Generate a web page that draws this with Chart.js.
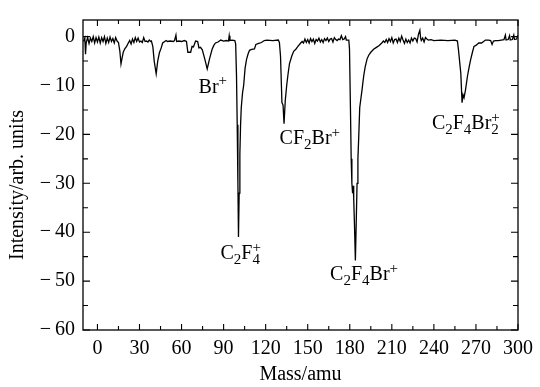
<!DOCTYPE html>
<html><head><meta charset="utf-8">
<script src="https://cdn.jsdelivr.net/npm/chart.js@4/dist/chart.umd.min.js"></script>
<style>html,body{margin:0;padding:0;background:#fff;}canvas{display:block;}</style>
</head><body>
<canvas id="c" width="540" height="387"></canvas>
<script>
// ---- data ----
const masses = [
 -10,-9,-8.5,-8,-7,-6,-5,-4,-3,-2,-1,0,1,2,3,4,5,6,7,8,9,10,11,12,13,14,15,16,16.8,17.5,18.4,19.5,20.8,22,23,24,25,26,27,28,29,30,31,32,33,34,35,36,37,38,38.5,39.5,40.5,41.9,43,44.2,45.5,46.5,48,49,50,52,54,55,56,56.5,58,60,62,63.5,64.5,66.5,67.5,68.5,70,71.5,72.4,73.5,74.8,76.5,78.3,80,81.8,83,84.2,86,88,90,92,93.5,94,94.5,96,98,
 98.6,99.2,99.7,100.2,100.6,101.1,101.6,102.1,102.6,103.5,104.3,105.3,106.4,107.5,108.5,110,112,113,115,117,119,121,125,129,
 129.8,130.6,131.6,132.4,133.1,134,135,135.9,137,138.7,140,141.5,143,145,146,147,148,149,150,151,152,153,154,155,156,157,158,159,160,161,162,163,164,165,166,167,168,169,170,171,172,173,174,175,176,177,177.5,179.3,
 179.8,180.5,181,181.5,182,182.4,182.8,183.4,184,184.6,185.2,185.8,186.4,187.1,188,188.7,189.3,190,191,192.3,193.5,195,197,199,201,202.8,
 204,205,206,207,208,209,210,211,212,213,214,215,216,217,218,219,220,221,222,223,224,225,226,227,228,229,230,230.5,231,232,233,234,235,236,238,240,245,250,255,256.8,
 257.5,259.2,260.1,260.8,261.5,262.5,264,265.3,266.3,267.5,268.6,270,272,274,276.8,279,280.5,281.5,282.5,284,286,288,290,291,291.5,293,294,294.5,296,297,297.5,299,300
];
const intensity = [
 -1.0,-0.3,-3.6,-1.2,-0.2,-1.4,-0.3,-1.0,0.0,-1.3,-0.2,-1.1,-0.1,-1.3,-0.2,-1.0,0.0,-1.4,-0.3,-1.2,-0.1,-1.0,-0.4,-1.3,-0.2,-0.9,-1.2,-3.0,-5.6,-4.5,-3.2,-2.5,-2.0,-1.3,-0.8,-1.5,-0.5,-1.2,-0.2,-1.0,-0.3,-1.1,-0.9,-1.2,-0.2,-1.0,-0.9,-1.1,-0.7,-1.0,-0.9,-2.0,-5.0,-7.6,-5.0,-3.3,-2.3,-1.3,-1.0,-0.8,-1.0,-0.9,-1.0,-0.8,0.3,-1.0,-0.9,-1.0,-0.8,-1.0,-3.2,-3.2,-2.0,-2.1,-0.9,-1.0,-2.3,-2.2,-2.7,-4.5,-6.6,-4.5,-2.6,-1.8,-1.3,-1.1,-0.7,-0.9,-0.8,-0.9,0.2,-0.8,-0.7,-0.8,
 -1.5,-8,-18,-30,-41,-32,-24,-18,-14.5,-11.5,-10,-6.5,-4.6,-3.5,-2.8,-2.6,-2.5,-1.6,-1.4,-1.2,-0.8,-0.7,-0.8,-0.7,
 -1.2,-4,-13.5,-14,-17.8,-13,-10,-7.8,-5.5,-3.9,-3.0,-2.6,-2.0,-1.3,-1.0,-1.3,-0.5,-1.2,-0.6,-1.3,-0.4,-1.0,-0.5,-1.4,-0.6,-0.9,-0.3,-1.1,-0.6,-1.2,-0.4,-0.8,-0.3,-1.0,-0.5,-0.4,-1.1,-0.2,-0.6,-0.8,-0.5,-0.6,0.2,-0.6,-0.5,0.0,-0.7,-0.7,
 -2.5,-15,-25,-30,-32,-30.5,-33,-39,-45.8,-38,-30,-25,-20.4,-14.5,-12.5,-11,-9.5,-7.9,-6.2,-4.6,-3.8,-3.2,-2.6,-2.2,-1.8,-1.3,
 -0.9,-1.2,-0.6,-1.2,-0.4,-1.0,-0.2,-1.3,-0.6,-0.5,-1.2,-0.3,-1.0,0.1,-0.7,-1.4,-0.5,-1.2,-0.7,-1.3,-0.3,-0.9,-0.3,-0.4,-1.1,0.5,1.3,-0.2,-0.8,-0.3,-1.1,-0.2,-0.5,-0.7,-0.6,-0.8,-0.7,-0.8,-0.7,-0.9,
 -2.6,-7.5,-13.5,-11.9,-12.5,-11,-8,-6,-4.6,-3.2,-2.0,-1.8,-1.3,-1.3,-0.7,-0.7,-0.8,-1.6,-0.9,-0.8,-0.8,-0.7,-0.6,0.3,-0.7,-0.6,0.2,-0.7,-0.6,0.3,-0.6,-0.5,0.3
];
const xTicks = [0,30,60,90,120,150,180,210,240,270,300];
const xMinorTicks = [15,45,75,105,135,165,195,225,255,285];
const yTicks = [-60,-50,-40,-30,-20,-10,0];
const yMinorTicks = [-55,-45,-35,-25,-15,-5];
const peakLabels = ['Br^+','CF_2Br^+','C_2F_4^+','C_2F_4Br^+','C_2F_4Br_2^+'];
const peakLabelMass = [82.3,151.5,102.2,190.2,262.8];
const peakLabelIntensity = [-10.1,-20.6,-44.2,-48.5,-17.5];
const xTitle = 'Mass/amu';
const yTitle = 'Intensity/arb. units';

const FONT = '"Liberation Serif", "Times New Roman", serif';
const FS = 20;

function drawRich(ctx, str, cx, cy, size) {
  const parts = [];
  for (let i = 0; i < str.length; ) {
    const c = str[i];
    if (c === '_' || c === '^') { parts.push({t: str[i+1], k: c}); i += 2; }
    else { parts.push({t: c, k: ''}); i++; }
  }
  const small = size * 0.75;
  let x = 0; const pos = [];
  for (let i = 0; i < parts.length; i++) {
    const p = parts[i];
    ctx.font = (p.k ? small : size) + 'px ' + FONT;
    const w = ctx.measureText(p.t).width;
    if (p.k === '^' && i > 0 && parts[i-1].k === '_') {
      const prev = pos[i-1];
      pos.push({x: prev.x, w});
      x = Math.max(prev.x + prev.w, prev.x + w);
    } else {
      pos.push({x, w});
      x += w;
    }
  }
  const total = x;
  const x0 = cx - total / 2;
  const base = cy + size * 0.33;
  ctx.fillStyle = '#000';
  ctx.textAlign = 'left';
  ctx.textBaseline = 'alphabetic';
  parts.forEach((p, i) => {
    ctx.font = (p.k ? small : size) + 'px ' + FONT;
    let dy = 0;
    if (p.k === '_') dy = size * 0.24;
    if (p.k === '^') dy = -size * 0.36;
    ctx.fillText(p.t, x0 + pos[i].x, base + dy);
  });
}

const framePlugin = {
  id: 'frame',
  afterDraw(chart) {
    const {ctx, chartArea: a, scales: {x, y}} = chart;
    ctx.save();
    ctx.strokeStyle = '#000';
    ctx.lineWidth = 1.3;
    ctx.strokeRect(a.left, a.top, a.right - a.left, a.bottom - a.top);
    ctx.lineWidth = 1.1;
    ctx.beginPath();
    const tick = (vals, len, horiz) => {
      vals.forEach(v => {
        if (horiz) {
          const px = x.getPixelForValue(v);
          ctx.moveTo(px, a.bottom); ctx.lineTo(px, a.bottom - len);
          ctx.moveTo(px, a.top); ctx.lineTo(px, a.top + len);
        } else {
          const py = y.getPixelForValue(v);
          ctx.moveTo(a.left, py); ctx.lineTo(a.left + len, py);
          ctx.moveTo(a.right, py); ctx.lineTo(a.right - len, py);
        }
      });
    };
    tick(xTicks, 6, true); tick(xMinorTicks, 4, true);
    tick(yTicks, 7, false); tick(yMinorTicks, 5, false);
    ctx.stroke();
    peakLabels.forEach((s, i) => {
      drawRich(ctx, s, x.getPixelForValue(peakLabelMass[i]), y.getPixelForValue(peakLabelIntensity[i]), FS);
    });
    ctx.translate(18, 185);
    ctx.rotate(-Math.PI / 2);
    ctx.font = FS + 'px ' + FONT;
    ctx.textAlign = 'center';
    ctx.textBaseline = 'middle';
    ctx.fillStyle = '#000';
    ctx.fillText(yTitle, 0, 0);
    ctx.restore();
  }
};

const fmt = v => v < 0 ? '\u2212' + '\u2009' + Math.abs(v) : String(v);

new Chart(document.getElementById('c'), {
  type: 'line',
  data: {
    datasets: [{
      data: masses.map((m, i) => ({x: m, y: intensity[i]})),
      borderColor: '#000', borderWidth: 1.3, pointRadius: 0, tension: 0, fill: false
    }]
  },
  options: {
    responsive: false, animation: false,
    layout: {padding: {top: 9, right: 17, left: 0, bottom: 0}},
    plugins: {legend: {display: false}, tooltip: {enabled: false}},
    scales: {
      x: {
        type: 'linear', min: -10.3, max: 300,
        grid: {display: false, drawTicks: false}, border: {display: false},
        afterBuildTicks: s => { s.ticks = xTicks.map(v => ({value: v})); },
        ticks: {font: {family: FONT, size: FS}, color: '#000', padding: 7, maxRotation: 0, autoSkip: false, callback: v => fmt(v)},
        title: {display: true, text: xTitle, font: {family: FONT, size: FS}, color: '#000', padding: {top: 0, bottom: 0}},
        afterFit: s => { s.height = 57; }
      },
      y: {
        type: 'linear', min: -60, max: 3.4,
        grid: {display: false, drawTicks: false}, border: {display: false},
        afterBuildTicks: s => { s.ticks = yTicks.map(v => ({value: v})); },
        ticks: {font: {family: FONT, size: FS}, color: '#000', padding: 8, autoSkip: false, callback: v => fmt(v)},
        afterFit: s => { s.width = 83; }
      }
    }
  },
  plugins: [framePlugin]
});
</script>
</body></html>
